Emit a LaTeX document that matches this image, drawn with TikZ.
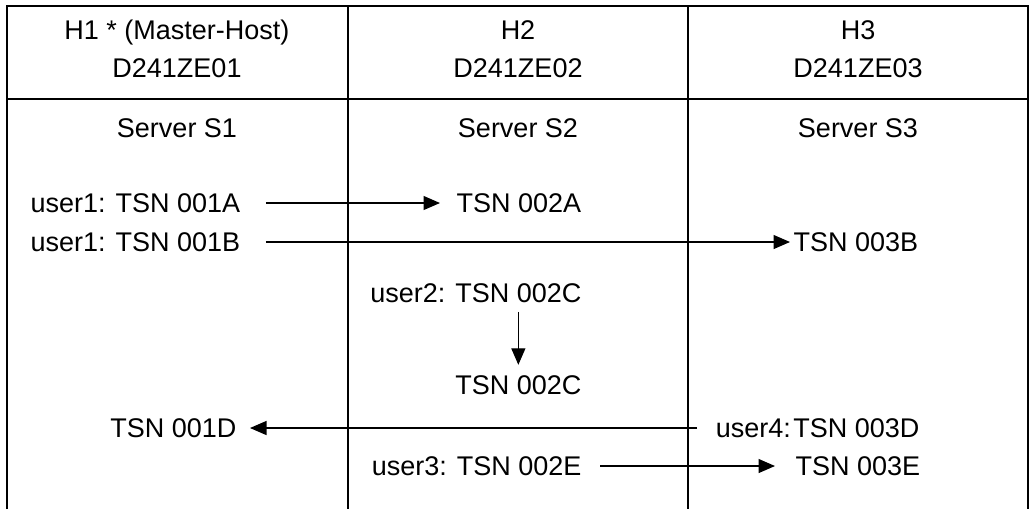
\documentclass[tikz,border=0pt]{standalone}
\usepackage{fontspec}
\setmainfont{Liberation Sans}
\usetikzlibrary{arrows.meta}
\begin{document}
\begin{tikzpicture}[x=0.4pt,y=-0.4pt,line width=0.5pt,
    >={Triangle[length=6.6pt,width=5.6pt]},
    lbl/.style={inner sep=0pt,font=\fontsize{10.8}{15.2}\selectfont}]

    \useasboundingbox (0,0) rectangle (1032,509);

    % 表格框线
    \coordinate (L) at (7,6);
    \coordinate (R) at (1028,6);
    \draw (7,509) -- (L) -- (R) -- (1028,509);
    \draw (7,99) -- (1028,99);
    \draw (348,6) -- (348,509);
    \draw (688,6) -- (688,509);

    % 主机表头
    \node[lbl,align=center] (h1) at (177,49) {H1 * (Master-Host)\\D241ZE01};
    \node[lbl,align=center] (h2) at (518,49) {H2\\D241ZE02};
    \node[lbl,align=center] (h3) at (858,49) {H3\\D241ZE03};

    % 服务器
    \node[lbl] (s1) at (177,128) {Server S1};
    \node[lbl] (s2) at (518,128) {Server S2};
    \node[lbl] (s3) at (858,128) {Server S3};

    % 任务
    \node[lbl,anchor=west] (u1a) at (30,203) {user1: TSN 001A};
    \node[lbl,anchor=west] (t2a) at (456,203) {TSN 002A};
    \node[lbl,anchor=west] (u1b) at (30,242) {user1: TSN 001B};
    \node[lbl,anchor=west] (t3b) at (793,242) {TSN 003B};
    \node[lbl,anchor=east] (u2c) at (582,293) {user2: TSN 002C};
    \node[lbl,anchor=east] (t2c) at (582,385) {TSN 002C};
    \node[lbl,anchor=east] (t1d) at (237,428) {TSN 001D};
    \node[lbl,anchor=east] (u4d) at (920,428) {user4:\kern1pt TSN 003D};
    \node[lbl,anchor=east] (u3e) at (582,466) {user3: TSN 002E};
    \node[lbl,anchor=west] (t3e) at (795,466) {TSN 003E};

    % 箭头
    \draw[->] ([xshift=10pt]u1a.east) -- ([xshift=-6.4pt]t2a.west);
    \draw[->] ([xshift=10pt]u1b.east) -- ([xshift=-1.2pt]t3b.west);
    \draw[->] ([yshift=-3.5pt]u2c.south -| t2c.north) -- ([yshift=4pt]t2c.north);
    \draw[->] ([xshift=-7.2pt]u4d.west) -- ([xshift=5.2pt]t1d.east);
    \draw[->] ([xshift=7.2pt]u3e.east) -- ([xshift=-8pt]t3e.west);

\end{tikzpicture}
\end{document}
